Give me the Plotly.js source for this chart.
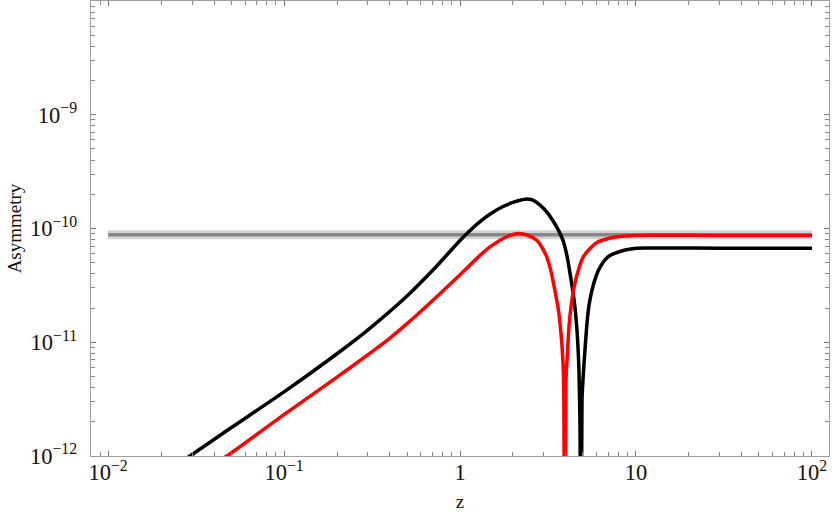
<!DOCTYPE html>
<html>
<head>
<meta charset="utf-8">
<script src="https://cdn.plot.ly/plotly-3.0.1.min.js"></script>
<style>
  html, body { margin: 0; padding: 0; background: #fff; }
  #chart { width: 834px; height: 515px; }
</style>
</head>
<body>
<div id="chart"></div>
<script>
// values (|asymmetry| against z)
const blackZ = [0.025, 0.0292, 0.05, 0.1, 0.2, 0.3, 0.5, 0.702, 1.0, 1.11, 1.30, 1.50, 1.756, 2.0, 2.164, 2.34, 2.531, 2.667, 3.0, 3.37, 3.85, 4.06, 4.22, 4.38, 4.50, 4.62, 4.68, 4.745, 4.807, 4.87,
                4.935, 5.03, 5.13, 5.27, 5.41, 5.62, 5.926, 6.24, 6.67, 7.11, 7.80, 8.66, 10.1, 13.7, 30, 100];
const blackA = [8.5e-13, 1.0e-12, 1.77e-12, 3.66e-12, 7.92e-12, 1.285e-11, 2.55e-11, 4.31e-11, 7.85e-11, 9.23e-11, 1.148e-10, 1.355e-10, 1.56e-10, 1.694e-10, 1.762e-10, 1.81e-10, 1.80e-10, 1.735e-10, 1.49e-10, 1.175e-10, 7.85e-11, 5.68e-11, 4.03e-11, 2.8e-11, 2.03e-11, 1.29e-11, 9.2e-12, 5.6e-12, 1.87e-12, 1e-14,
                3.1e-12, 5.46e-12, 8.5e-12, 1.47e-11, 2.11e-11, 2.86e-11, 3.79e-11, 4.55e-11, 5.3e-11, 5.8e-11, 6.15e-11, 6.47e-11, 6.72e-11, 6.74e-11, 6.72e-11, 6.72e-11];

const redZ = [0.04, 0.0472, 0.05, 0.1, 0.2, 0.3, 0.392, 0.5, 0.702, 1.0, 1.30, 1.481, 1.666, 1.874, 2.135, 2.403, 2.74, 2.924, 3.12, 3.289, 3.46, 3.606, 3.70, 3.798, 3.873, 3.935,
              4.003, 4.083, 4.178, 4.272, 4.385, 4.50, 4.74, 5.0, 5.48, 6.0, 6.67, 7.60, 9.25, 12.5, 30, 100];
const redA = [8.4e-13, 1.0e-12, 1.06e-12, 2.31e-12, 4.93e-12, 7.78e-12, 1.06e-11, 1.456e-11, 2.34e-11, 3.92e-11, 5.8e-11, 6.89e-11, 7.77e-11, 8.59e-11, 9.04e-11, 8.77e-11, 7.85e-11, 6.81e-11, 5.57e-11, 4.2e-11, 2.86e-11, 2.03e-11, 1.47e-11, 9.4e-12, 5.14e-12, 1e-14,
              4.65e-12, 8.2e-12, 1.47e-11, 2.03e-11, 2.69e-11, 3.3e-11, 4.46e-11, 5.57e-11, 6.68e-11, 7.54e-11, 8.0e-11, 8.42e-11, 8.65e-11, 8.71e-11, 8.7e-11, 8.7e-11];

// observed value band
const bandZ = [0.01, 100];
const bandA = [8.8e-11, 8.8e-11];

const serif = 'Liberation Serif';

const traces = [
    { x: bandZ, y: bandA, mode: 'lines', line: { color: '#d4d4d4', width: 9 }, hoverinfo: 'skip' },
    { x: bandZ, y: bandA, mode: 'lines', line: { color: '#888888', width: 3.5 }, hoverinfo: 'skip' },
    { x: blackZ, y: blackA, mode: 'lines', line: { color: '#000000', width: 3.5, shape: 'spline', smoothing: 0.8 } },
    { x: redZ, y: redA, mode: 'lines', line: { color: '#ff0000', width: 3.5, shape: 'spline', smoothing: 0.8 } }
];

const axisCommon = {
    type: 'log',
    dtick: 1,
    exponentformat: 'power',
    showgrid: false,
    zeroline: false,
    showline: true,
    linecolor: '#a0a0a0',
    linewidth: 1.3,
    mirror: 'ticks',
    ticks: 'inside',
    ticklen: 5,
    tickcolor: '#777',
    tickwidth: 1,
    tickfont: { family: serif, size: 18, color: '#111' },
    minor: { ticks: 'inside', ticklen: 4, tickcolor: '#888', dtick: 'D1' },
    automargin: false
};

const layout = {
    width: 834,
    height: 515,
    margin: { l: 91, r: 5, t: 1, b: 59 },
    paper_bgcolor: '#fff',
    plot_bgcolor: '#fff',
    showlegend: false,
    font: { family: serif, size: 18, color: '#111' },
    xaxis: Object.assign({}, axisCommon, {
        range: [-2.097, 2.097],
        ticklabelstandoff: -3,
        title: { text: 'z', font: { family: serif, size: 19, color: '#111' }, standoff: 10 }
    }),
    yaxis: Object.assign({}, axisCommon, {
        range: [-12, -8],
        ticklabelstandoff: 9,
        title: { text: 'Asymmetry', font: { family: serif, size: 19, color: '#111' }, standoff: 3 }
    })
};

Plotly.newPlot('chart', traces, layout, { displayModeBar: false, staticPlot: true });
</script>
</body>
</html>
